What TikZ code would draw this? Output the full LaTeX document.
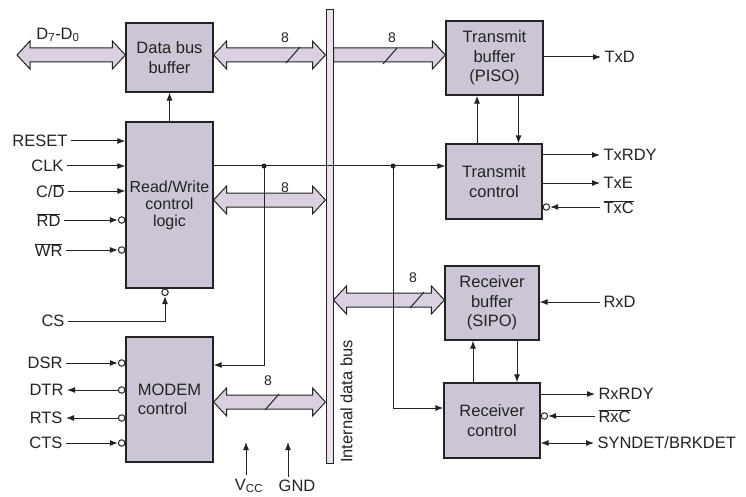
\documentclass[tikz,border=0pt]{standalone}
\usepackage{fontspec}
\setmainfont{Liberation Sans}
\usetikzlibrary{arrows.meta, calc}
\definecolor{blkfill}{RGB}{204,197,214}
\definecolor{busfill}{RGB}{218,208,224}
\definecolor{barfill}{RGB}{234,224,238}
\definecolor{ink}{RGB}{35,35,35}
\newcommand{\ovl}[1]{$\overline{\mbox{#1}}$}
\newcommand{\dblbus}[2]{\draw[fatbus] let \p1=(#1), \p2=(#2) in
  (\x1,\y1) -- (\x1+13pt,\y1+14pt) -- (\x1+13pt,\y1+7pt) -- (\x2-13pt,\y1+7pt) -- (\x2-13pt,\y1+14pt)
  -- (\x2,\y1) -- (\x2-13pt,\y1-14pt) -- (\x2-13pt,\y1-7pt) -- (\x1+13pt,\y1-7pt) -- (\x1+13pt,\y1-14pt) -- cycle;}
\newcommand{\onebus}[2]{\draw[fatbus] let \p1=(#1), \p2=(#2) in
  (\x1,\y1+7pt) -- (\x2-13pt,\y1+7pt) -- (\x2-13pt,\y1+14pt)
  -- (\x2,\y1) -- (\x2-13pt,\y1-14pt) -- (\x2-13pt,\y1-7pt) -- (\x1,\y1-7pt) -- cycle;}
\begin{document}
\begin{tikzpicture}[x=1pt, y=-1pt, ink, font=\fontsize{16.5}{18}\selectfont,
    blk/.style={draw=ink, line width=1.2pt, fill=blkfill, align=center, inner sep=2pt, font=\fontsize{16.5}{19.5}\selectfont},
    fatbus/.style={draw=ink, line width=1pt, fill=busfill, line join=miter},
    sig/.style={draw=ink, line width=1pt, -{Latex[length=8pt,width=6pt]}},
    dsig/.style={draw=ink, line width=1pt, {Latex[length=8pt,width=6pt]}-{Latex[length=8pt,width=6pt]}},
    wire/.style={draw=ink, line width=1pt},
    bub/.style={circle, draw=ink, line width=1pt, fill=white, inner sep=0pt, minimum size=6.5pt},
    w8/.style={font=\fontsize{14}{15}\selectfont}]
    \useasboundingbox (0,0) rectangle (746,497);

    % Blocks
    \node[blk, minimum width=87pt, minimum height=69pt] (dbb) at (169.5,57.5) {Data bus\\buffer};
    \node[blk, minimum width=87pt, minimum height=166pt, font=\fontsize{16}{17}\selectfont] (rw) at (169.5,205) {Read/Write\\control\\logic};
    \node[blk, minimum width=87pt, minimum height=125pt, align=left] (modem) at (169.5,399.5) {MODEM\\control};
    \node[blk, minimum width=97pt, minimum height=74pt] (tb) at (494.5,58) {Transmit\\buffer\\(PISO)};
    \node[blk, minimum width=96pt, minimum height=75pt] (tc) at (494,181.5) {Transmit\\control};
    \node[blk, minimum width=94pt, minimum height=74pt] (rb) at (492,303) {Receiver\\buffer\\(SIPO)};
    \node[blk, minimum width=96pt, minimum height=75pt] (rc) at (492,420.5) {Receiver\\control};

    % Internal data bus
    \node[draw=ink, line width=1pt, fill=barfill, minimum width=7pt, minimum height=453pt, inner sep=0pt] (bus) at (329.5,236.5) {};
    \node[rotate=90] (buslbl) at (346.5,401.5) {Internal data bus};

    % Wide buses
    \coordinate (dext) at (17,55);
    \coordinate (dbbr) at ([yshift=2.5pt]dbb.east);
    \coordinate (rwr) at ([yshift=5pt]rw.east);
    \coordinate (mdr) at ([yshift=-2.5pt]modem.east);
    \coordinate (tbl) at ([yshift=3pt]tb.west);
    \coordinate (rbl) at ([yshift=3pt]rb.west);
    \dblbus{dext}{dext -| dbb.west}
    \dblbus{dbbr}{dbbr -| bus.west}
    \dblbus{rwr}{rwr -| bus.west}
    \dblbus{mdr}{mdr -| bus.west}
    \onebus{tbl -| bus.east}{tbl}
    \dblbus{rbl -| bus.east}{rbl}
    \node (dlbl) at (58,35) {D\textsubscript{7}-D\textsubscript{0}};
    \node[w8] (w1) at (285,38) {8};
    \node[w8] (w2) at (392,38) {8};
    \node[w8] (w3) at (285,188) {8};
    \node[w8] (w4) at (413,278) {8};
    \node[w8] (w5) at (268,381) {8};
    \draw[wire] (293,55) ++(-7,8) -- ++(14,-16);
    \draw[wire] (390,56) ++(-7,8) -- ++(14,-16);
    \draw[wire] (417,300) ++(-7,8) -- ++(14,-16);
    \draw[wire] (272,402) ++(-7,8) -- ++(14,-16);

    % Internal control lines
    \draw[sig] (rw.north) -- (dbb.south);
    \coordinate (ctl) at ([yshift=39pt]rw.east);
    \coordinate (j1) at (264,166);
    \coordinate (j2) at (393,166);
    \draw[sig] (ctl) -- (ctl -| tc.west);
    \draw[sig] (j1) |- ([yshift=34.5pt]modem.east);
    \draw[sig] (j2) |- ([yshift=12.5pt]rc.west);
    \fill (j1) circle (2.5pt);
    \fill (j2) circle (2.5pt);
    \draw[sig] ([xshift=-17pt]tc.north) -- ([xshift=-17pt]tc.north |- tb.south);
    \draw[sig] ([xshift=24pt]tb.south) -- ([xshift=24pt]tb.south |- tc.north);
    \draw[sig] ([xshift=-19pt]rc.north) -- ([xshift=-19pt]rc.north |- rb.south);
    \draw[sig] ([xshift=25pt]rb.south) -- ([xshift=25pt]rb.south |- rc.north);

    % Left side signals
    \node[anchor=east] (reset) at (71,141) {RESET};
    \node[anchor=east] (clk) at (67,166) {CLK};
    \node[anchor=east] (cd) at (68,191) {C/\ovl{D}};
    \node[anchor=east] (rd) at (64,220) {\ovl{RD}};
    \node[anchor=east] (wr) at (66,250) {\ovl{WR}};
    \node[anchor=east] (cs) at (68,321) {CS};
    \node[anchor=east] (dsr) at (66,363) {DSR};
    \node[anchor=east] (dtr) at (67,390) {DTR};
    \node[anchor=east] (rts) at (66,418) {RTS};
    \node[anchor=east] (cts) at (66,443) {CTS};
    \node[bub, anchor=east] (rdb) at (rd -| rw.west) {};
    \node[bub, anchor=east] (wrb) at (wr -| rw.west) {};
    \node[bub, anchor=north] (csb) at ([xshift=-4.5pt]rw.south) {};
    \node[bub, anchor=east] (dsrb) at (dsr -| modem.west) {};
    \node[bub, anchor=east] (dtrb) at (dtr -| modem.west) {};
    \node[bub, anchor=east] (rtsb) at (rts -| modem.west) {};
    \node[bub, anchor=east] (ctsb) at (cts -| modem.west) {};
    \draw[sig] (reset) -- (reset -| rw.west);
    \draw[sig] (clk) -- (clk -| rw.west);
    \draw[sig] (cd) -- (cd -| rw.west);
    \draw[sig] (rd) -- (rdb);
    \draw[sig] (wr) -- (wrb);
    \draw[sig] (cs) -| (csb);
    \draw[sig] (dsr) -- (dsrb);
    \draw[sig] (dtrb) -- (dtr);
    \draw[sig] (rtsb) -- (rts);
    \draw[sig] (cts) -- (ctsb);

    % Right side signals
    \node[anchor=west] (txd) at (601,57) {TxD};
    \node[anchor=west] (txrdy) at (600,155) {TxRDY};
    \node[anchor=west] (txe) at (600,183) {TxE};
    \node[anchor=west] (txc) at (600,207) {\ovl{TxC}};
    \node[anchor=west] (rxd) at (600,302) {RxD};
    \node[anchor=west] (rxrdy) at (595,394) {RxRDY};
    \node[anchor=west] (rxc) at (595,416) {\ovl{RxC}};
    \node[anchor=west] (syn) at (594,443) {SYNDET/BRKDET};
    \node[bub, anchor=west] (txcb) at (txc -| tc.east) {};
    \node[bub, anchor=west] (rxcb) at (rxc -| rc.east) {};
    \draw[sig] (txd -| tb.east) -- (txd);
    \draw[sig] (txrdy -| tc.east) -- (txrdy);
    \draw[sig] (txe -| tc.east) -- (txe);
    \draw[sig] (txc) -- (txcb);
    \draw[sig] (rxd) -- (rxd -| rb.east);
    \draw[sig] (rxrdy -| rc.east) -- (rxrdy);
    \draw[sig] (rxc) -- (rxcb);
    \draw[dsig] (syn -| rc.east) -- (syn);

    % Supply
    \node (vcc) at (249,486) {V\textsubscript{CC}};
    \node (gnd) at (297,486) {GND};
    \coordinate (vcctop) at (246,442);
    \coordinate (gndtop) at (288,442);
    \draw[sig] (vcctop |- vcc.north) -- (vcctop);
    \draw[sig] (gndtop |- gnd.north) -- (gndtop);
\end{tikzpicture}
\end{document}
